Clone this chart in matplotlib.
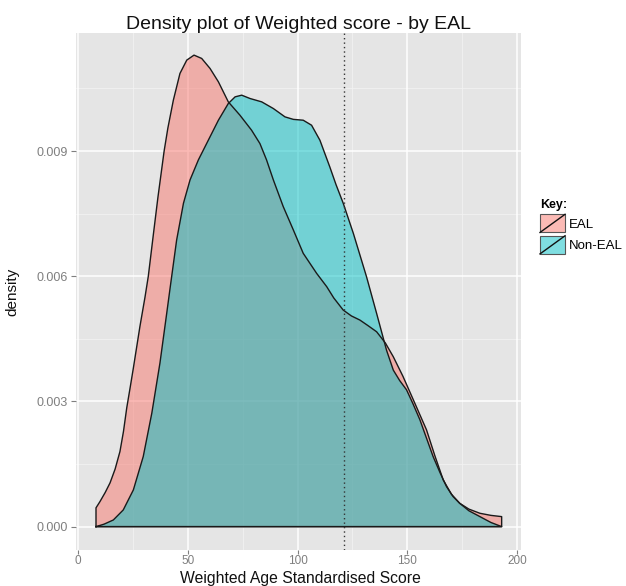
import matplotlib
matplotlib.use("Agg")
import matplotlib.pyplot as plt
from matplotlib.patches import Rectangle
from matplotlib.lines import Line2D
from matplotlib.legend_handler import HandlerBase

plt.rcParams['font.family'] = ['Liberation Sans', 'DejaVu Sans']

# Data (score, density)
eal_x = [8.3, 8.3, 10.1, 12.5, 14.7, 17.0, 19.2, 20.8, 22.3, 23.8, 25.3, 26.8, 28.3,
         30.6, 32.1, 34.4, 36.5, 39.3, 41.0, 43.5, 46.5, 49.6, 52.9, 56.4, 60.2,
         64.0, 68.5, 73.8, 79.1, 82.9, 85.9, 89.0, 93.5, 98.1, 102.6, 108.7, 113.3,
         116.5, 120.8, 124.5, 128.4, 132.0, 136.0, 140.0, 143.6, 148.0, 152.7,
         158.7, 162.5, 166.3, 170.0, 173.8, 178.0, 183.0, 188.0, 192.9, 192.9]
eal_y = [0.0, 0.00045, 0.00060, 0.00082, 0.00105, 0.00138, 0.00180, 0.00228,
         0.00285, 0.00332, 0.00380, 0.00430, 0.00480, 0.00550, 0.00600, 0.00700,
         0.00790, 0.00900, 0.00955, 0.01022, 0.01086, 0.01118, 0.01130, 0.01122,
         0.01098, 0.01066, 0.01018, 0.00986, 0.00950, 0.00918, 0.00879, 0.00831,
         0.00767, 0.00711, 0.00655, 0.00607, 0.00575, 0.00548, 0.00519, 0.00505,
         0.00495, 0.00482, 0.00467, 0.00440, 0.00407, 0.00360, 0.00304, 0.00232,
         0.00170, 0.00112, 0.00078, 0.00056, 0.00042, 0.00032, 0.00027, 0.00024,
         0.0]

noneal_x = [8.3, 12.0, 16.2, 20.7, 25.3, 29.8, 33.7, 37.4, 40.5, 42.0, 45.0, 48.1,
            51.1, 54.9, 59.4, 64.0, 68.5, 71.6, 74.6, 78.4, 83.7, 89.0, 94.3,
            98.1, 102.6, 106.4, 110.2, 114.7, 117.5, 120.8, 125.4, 131.4, 136.0,
            140.5, 143.6, 146.5, 149.6, 152.5, 155.7, 158.7, 161.7, 164.8, 167.8,
            170.8, 173.8, 178.0, 183.0, 188.0, 192.9]
noneal_y = [0.0, 0.00006, 0.00016, 0.00040, 0.00088, 0.00168, 0.00272, 0.00392,
            0.00512, 0.00571, 0.00687, 0.00775, 0.00831, 0.00879, 0.00926, 0.00974,
            0.01014, 0.01030, 0.01034, 0.01026, 0.01018, 0.01002, 0.00982, 0.00976,
            0.00974, 0.00962, 0.00926, 0.00862, 0.00820, 0.00775, 0.00703, 0.00599,
            0.00511, 0.00423, 0.00375, 0.00350, 0.00328, 0.00295, 0.00256, 0.00212,
            0.00168, 0.00130, 0.00096, 0.00072, 0.00056, 0.00038, 0.00024, 0.00010,
            0.0]

cutoff = 121
groups = ['EAL', 'Non-EAL']
colors = ['#F8766D', '#00BFC4']
xticks = [0, 50, 100, 150, 200]
yticks = [0.000, 0.003, 0.006, 0.009]

fig = plt.figure(figsize=(6.26, 5.86), dpi=100)
L, R, T, B = 76, 521, 33, 550
ax = fig.add_axes([L/626, 1-B/586, (R-L)/626, (B-T)/586])
ax.set_facecolor('#E5E5E5')
for s in ax.spines.values():
    s.set_visible(False)

ax.set_xlim(-0.8, 201.7)
ax.set_ylim(-0.00056, 0.01183)

# grid
for v in [25, 75, 125, 175]:
    ax.axvline(v, color='#F2F2F2', lw=0.6, zorder=0)
for v in [0.0015, 0.0045, 0.0075, 0.0105]:
    ax.axhline(v, color='#F2F2F2', lw=0.6, zorder=0)
for v in xticks:
    ax.axvline(v, color='white', lw=1.1, zorder=0)
for v in yticks:
    ax.axhline(v, color='white', lw=1.1, zorder=0)

for xs, ys, c in [(eal_x, eal_y, colors[0]), (noneal_x, noneal_y, colors[1])]:
    ax.fill(xs + [xs[0]], ys + [ys[0]], facecolor=c, alpha=0.5, edgecolor='none', zorder=2)
    ax.plot(xs + [xs[0]], ys + [ys[0]], color='#1a1a1a', lw=1.0, zorder=3,
            solid_joinstyle='round')

ax.axvline(cutoff, color='#333333', lw=1.0, ls=(0, (1, 2.2)), zorder=4)

ax.set_xticks(xticks)
ax.set_xticklabels([str(v) for v in xticks])
ax.set_yticks(yticks)
ax.set_yticklabels([f'{v:.3f}' for v in yticks])
ax.tick_params(axis='both', colors='#7F7F7F', labelcolor='#7F7F7F', width=0.8)
ax.tick_params(axis='x', labelsize=8.5, length=2.8, pad=0.5)
ax.tick_params(axis='y', labelsize=9, length=3.6, pad=2)

ax.set_title('Density plot of Weighted score - by EAL', fontsize=14, color='#111111', pad=3)
ax.set_xlabel('Weighted Age Standardised Score', fontsize=11.3, color='#111111',
              va='bottom')
ax.xaxis.set_label_coords(0.505, (B - 585.5) / (B - T))
ax.set_ylabel('density', fontsize=11, color='#111111')
ax.yaxis.set_label_coords(-0.127, 0.5)


class SlashHandler(HandlerBase):
    def create_artists(self, legend, orig_handle, xdescent, ydescent, width, height, fontsize, trans):
        r = Rectangle((-xdescent, -ydescent), width, height, facecolor=orig_handle.get_facecolor(),
                      edgecolor='#555555', lw=0.8, transform=trans)
        l = Line2D([-xdescent, -xdescent + width], [-ydescent, -ydescent + height],
                   color='#111111', lw=1.0, transform=trans)
        return [r, l]


handles = [Rectangle((0, 0), 1, 1, facecolor=c, alpha=0.5) for c in colors]
leg = fig.legend(handles, groups, handler_map={Rectangle: SlashHandler()},
                 loc='upper left', bbox_to_anchor=(540/626, 1-199/586), frameon=False,
                 title='Key:', fontsize=9.5, handlelength=1.9, handleheight=1.74,
                 handletextpad=0.27, labelspacing=0.25, borderpad=0.0, borderaxespad=0.0,
                 alignment='left')
leg.get_title().set_fontweight('bold')
leg.get_title().set_fontsize(9)

fig.savefig('out.png', dpi=100)
